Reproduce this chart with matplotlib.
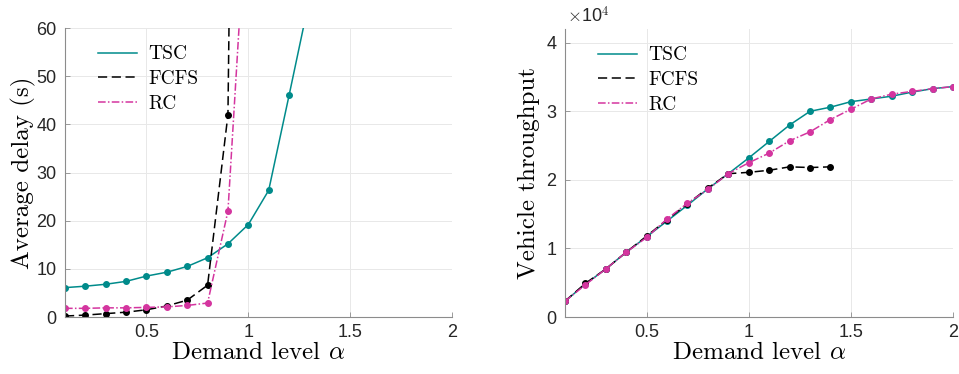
import matplotlib
matplotlib.use("Agg")
import matplotlib.pyplot as plt

plt.rcParams['mathtext.fontset'] = 'cm'

# ---------------- data ----------------
alpha_delay = [0.1, 0.2, 0.3, 0.4, 0.5, 0.6, 0.7, 0.8, 0.9, 1.0, 1.1, 1.2, 1.3]
tsc_delay = [6.1, 6.4, 6.8, 7.4, 8.5, 9.3, 10.5, 12.3, 15.2, 19.2, 26.3, 46.0, 66.0]
alpha_delay_fcfs = [0.1, 0.2, 0.3, 0.4, 0.5, 0.6, 0.7, 0.8, 0.9, 1.0]
fcfs_delay = [0.2, 0.4, 0.7, 1.0, 1.5, 2.3, 3.5, 6.6, 42.0, 400.0]
alpha_delay_rc = [0.1, 0.2, 0.3, 0.4, 0.5, 0.6, 0.7, 0.8, 0.9, 1.0]
rc_delay = [1.8, 1.8, 1.9, 1.9, 2.0, 2.1, 2.4, 2.9, 22.0, 92.0]

alpha_tp = [0.1, 0.2, 0.3, 0.4, 0.5, 0.6, 0.7, 0.8, 0.9, 1.0,
            1.1, 1.2, 1.3, 1.4, 1.5, 1.6, 1.7, 1.8, 1.9, 2.0]
tsc_tp = [0.23, 0.48, 0.70, 0.945, 1.17, 1.40, 1.63, 1.87, 2.09, 2.32,
          2.56, 2.80, 3.00, 3.06, 3.14, 3.18, 3.22, 3.28, 3.33, 3.36]
alpha_tp_fcfs = [0.1, 0.2, 0.3, 0.4, 0.5, 0.6, 0.7, 0.8, 0.9, 1.0, 1.1, 1.2, 1.3, 1.4]
fcfs_tp = [0.23, 0.49, 0.70, 0.945, 1.18, 1.42, 1.65, 1.88, 2.09, 2.11, 2.14, 2.19, 2.18, 2.19]
rc_tp = [0.23, 0.47, 0.70, 0.945, 1.16, 1.43, 1.66, 1.86, 2.09, 2.25,
         2.39, 2.57, 2.70, 2.88, 3.03, 3.18, 3.25, 3.29, 3.33, 3.36]
tp_scale = 1e4

# ---------------- style ----------------
TEAL = '#008B8B'
MAG = '#D4359F'
BLACK = '#000000'
SPINE = '#8C8C8C'
GRID = '#E8E8E8'
TICKFONT = 'Liberation Sans'
LABELFONT = 'cmr10'

fig = plt.figure(figsize=(9.59, 3.74), dpi=100)
ax1 = fig.add_axes([0.0678, 0.1524, 0.4035, 0.7726])
ax2 = fig.add_axes([0.5891, 0.1524, 0.4046, 0.7700])


def style_axes(ax):
    for s in ['top', 'right']:
        ax.spines[s].set_visible(False)
    for s in ['left', 'bottom']:
        ax.spines[s].set_color(SPINE)
        ax.spines[s].set_linewidth(0.8)
    ax.grid(True, color=GRID, linewidth=0.7)
    ax.set_axisbelow(True)
    ax.tick_params(direction='in', length=3.5, width=0.6, color=SPINE,
                   labelsize=13, labelcolor='#262626', pad=5)
    ax.tick_params(axis='y', pad=6)
    for lab in ax.get_xticklabels() + ax.get_yticklabels():
        lab.set_fontfamily(TICKFONT)


mk = dict(marker='o', markersize=4.0)
DASH = (0, (6, 3))
DASHDOT = (0, (5, 1.5, 1, 1.5))

# Left: average delay
ax1.plot(alpha_delay, tsc_delay, color=TEAL, lw=1.1, ls='-', label='TSC', **mk)
ax1.plot(alpha_delay_fcfs, fcfs_delay, color=BLACK, lw=1.1, ls=DASH, label='FCFS', **mk)
ax1.plot(alpha_delay_rc, rc_delay, color=MAG, lw=1.1, ls=DASHDOT, label='RC', **mk)
ax1.set_xlim(0.1, 2)
ax1.set_ylim(0, 60)
ax1.set_xticks([0.5, 1, 1.5, 2])
ax1.set_xticklabels(['0.5', '1', '1.5', '2'])
ax1.set_yticks([0, 10, 20, 30, 40, 50, 60])
ax1.set_yticklabels(['0', '10', '20', '30', '40', '50', '60'])
style_axes(ax1)
ax1.set_xlabel(r'Demand level $\alpha$', fontfamily=LABELFONT, fontsize=18, labelpad=1)
ax1.set_ylabel('Average delay (s)', fontfamily=LABELFONT, fontsize=18, labelpad=0)

# Right: throughput
ax2.plot(alpha_tp, [v * tp_scale for v in tsc_tp], color=TEAL, lw=1.1, ls='-', label='TSC', **mk)
ax2.plot(alpha_tp_fcfs, [v * tp_scale for v in fcfs_tp], color=BLACK, lw=1.1, ls=DASH, label='FCFS', **mk)
ax2.plot(alpha_tp, [v * tp_scale for v in rc_tp], color=MAG, lw=1.1, ls=DASHDOT, label='RC', **mk)
ax2.set_xlim(0.1, 2)
ax2.set_ylim(0, 4.2e4)
ax2.set_xticks([0.5, 1, 1.5, 2])
ax2.set_xticklabels(['0.5', '1', '1.5', '2'])
ax2.set_yticks([0, 1e4, 2e4, 3e4, 4e4])
ax2.set_yticklabels(['0', '1', '2', '3', '4'])
style_axes(ax2)
ax2.set_xlabel(r'Demand level $\alpha$', fontfamily=LABELFONT, fontsize=18, labelpad=1)
ax2.set_ylabel('Vehicle throughput', fontfamily=LABELFONT, fontsize=18, labelpad=5)
ax2.text(0.005, 1.008, r'$\times$10$^4$', transform=ax2.transAxes, fontsize=13,
         fontfamily=TICKFONT, color='#262626', ha='left', va='bottom')

for ax in (ax1, ax2):
    leg = ax.legend(loc='upper left', frameon=False, handlelength=2.0,
                    handletextpad=0.6, labelspacing=0.35,
                    bbox_to_anchor=(0.04, 1.0),
                    prop={'family': LABELFONT, 'size': 14})
    for h in leg.legend_handles:
        h.set_marker('')

fig.savefig('out.png', dpi=100)
